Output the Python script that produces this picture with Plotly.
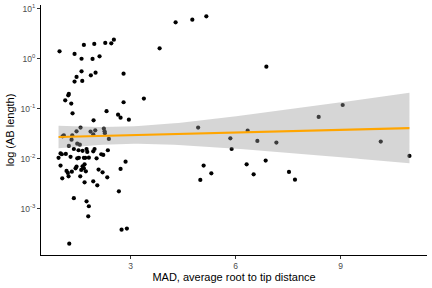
import numpy as np
import plotly.graph_objects as go

# MAD, average root to tip distance
mad = [0.971, 1.666, 1.963, 2.277, 2.449, 2.523, 1.400, 1.600, 1.914, 2.114,
       1.600, 1.457, 1.400, 1.620, 1.866, 2.000, 2.800, 3.829, 4.286, 4.763,
       5.163, 1.237, 1.220, 1.134, 1.306, 1.343, 2.800, 2.314, 3.380, 2.643,
       2.714, 1.943, 2.951, 6.877, 4.929, 1.571, 1.457, 1.857, 1.991, 1.934,
       2.237, 2.257, 2.266, 1.094, 1.057, 1.334, 1.314, 2.380, 1.237, 1.477,
       1.551, 1.380, 1.514, 1.629, 1.743, 1.763, 1.934, 1.971, 1.000, 1.037,
       1.151, 2.163, 2.220, 2.351, 0.943, 1.286, 1.477, 1.523, 1.666, 1.706,
       1.809, 2.029, 2.857, 1.000, 1.171, 1.209, 1.323, 1.429, 1.457, 1.629,
       1.686, 1.666, 1.591, 1.723, 2.086, 2.200, 2.714, 1.049, 1.229, 1.563,
       2.334, 1.686, 1.934, 2.049, 2.666, 1.380, 1.743, 1.809, 1.791, 2.743,
       2.894, 1.249, 6.343, 5.849, 6.620, 7.163, 10.143, 5.886, 5.086, 5.306,
       4.991, 6.314, 6.514, 6.857, 7.523, 7.694, 10.963, 9.057, 8.371]

# AB length
ab_length = [1.42, 1.91, 2.00, 2.09, 2.05, 2.43, 1.26, 1.01, 1.00, 1.13,
             0.565, 0.437, 0.352, 0.363, 0.470, 0.532, 0.508, 1.63, 5.40, 6.11,
             7.11, 0.200, 0.187, 0.149, 0.128, 0.0817, 0.136, 0.0904, 0.161, 0.0769,
             0.0670, 0.0592, 0.0611, 0.701, 0.0423, 0.0423, 0.0356, 0.0352, 0.0373, 0.0310,
             0.0404, 0.0356, 0.0328, 0.0296, 0.0283, 0.0296, 0.0243, 0.0251, 0.0182, 0.0202,
             0.0193, 0.0158, 0.0149, 0.0145, 0.0158, 0.0138, 0.0142, 0.0158, 0.0129, 0.0124,
             0.0126, 0.0124, 0.0120, 0.0149, 0.0105, 0.0110, 0.0103, 0.0105, 0.0105, 0.0105,
             0.0106, 0.0103, 0.00883, 0.00735, 0.00575, 0.00525, 0.00557, 0.00649, 0.00702, 0.00711,
             0.00780, 0.00649, 0.00603, 0.00565, 0.00611, 0.00540, 0.00631, 0.00409, 0.00449, 0.00449,
             0.00429, 0.00340, 0.00356, 0.00296, 0.00225, 0.00164, 0.00142, 0.00113, 0.000711, 0.000385,
             0.000404, 0.000202, 0.0368, 0.0258, 0.0229, 0.0212, 0.0222, 0.0158, 0.00735, 0.00515,
             0.00380, 0.00780, 0.00492, 0.00925, 0.00550, 0.00385, 0.0115, 0.120, 0.0692]

x_ticks = [3, 6, 9]
y_ticks = [1e-3, 1e-2, 1e-1, 1, 10]
y_ticklabels = ["10<sup>-3</sup>", "10<sup>-2</sup>", "10<sup>-1</sup>", "10<sup>0</sup>", "10<sup>1</sup>"]

# linear fit in log10 space with 95% confidence band (like geom_smooth(method="lm"))
lx = np.array(mad)
ly = np.log10(np.array(ab_length))
n = len(lx)
slope, intercept = np.polyfit(lx, ly, 1)
xs = np.linspace(lx.min(), lx.max(), 80)
fit = intercept + slope * xs
resid = ly - (intercept + slope * lx)
s = np.sqrt(np.sum(resid ** 2) / (n - 2))
sxx = np.sum((lx - lx.mean()) ** 2)
se = s * np.sqrt(1 / n + (xs - lx.mean()) ** 2 / sxx)
tq = 1.980
upper = fit + tq * se
lower = fit - tq * se

xspan = lx.max() - lx.min()
yspan = ly.max() - ly.min()
xrange = [lx.min() - 0.05 * xspan, lx.max() + 0.05 * xspan]
yrange = [ly.min() - 0.05 * yspan, ly.max() + 0.05 * yspan]

fig = go.Figure()
fig.add_trace(go.Scatter(x=mad, y=ab_length, mode="markers",
                         marker=dict(color="black", size=4.2, line=dict(width=0)),
                         showlegend=False, hoverinfo="skip"))
fig.add_trace(go.Scatter(x=xs, y=10 ** upper, mode="lines", line=dict(width=0),
                         showlegend=False, hoverinfo="skip"))
fig.add_trace(go.Scatter(x=xs, y=10 ** lower, mode="lines", line=dict(width=0),
                         fill="tonexty", fillcolor="rgba(153,153,153,0.4)",
                         showlegend=False, hoverinfo="skip"))
fig.add_trace(go.Scatter(x=xs, y=10 ** fit, mode="lines",
                         line=dict(color="#FFA500", width=2.2),
                         showlegend=False, hoverinfo="skip"))

axis_common = dict(showgrid=False, zeroline=False, showline=True, linecolor="black",
                   linewidth=1, ticks="outside", ticklen=3, tickcolor="#333333",
                   tickfont=dict(size=8.5, color="#4D4D4D"), automargin=False)

fig.update_layout(
    width=432, height=288,
    margin=dict(l=41, r=5, t=5, b=33),
    paper_bgcolor="white", plot_bgcolor="white",
    font=dict(family="Liberation Sans, Arial, sans-serif"),
    hovermode=False,
    xaxis=dict(range=xrange, tickvals=x_ticks,
               title=dict(text="MAD, average root to tip distance",
                          font=dict(size=11, color="black"), standoff=3),
               **axis_common),
    yaxis=dict(type="log", range=yrange, tickvals=y_ticks, ticktext=y_ticklabels,
               title=dict(text="log (AB length)", font=dict(size=11, color="black"),
                          standoff=3),
               **axis_common),
)

fig.write_html("out.html", config={"displayModeBar": False},
               post_script="document.body.style.margin='0';document.body.style.padding='0';")
